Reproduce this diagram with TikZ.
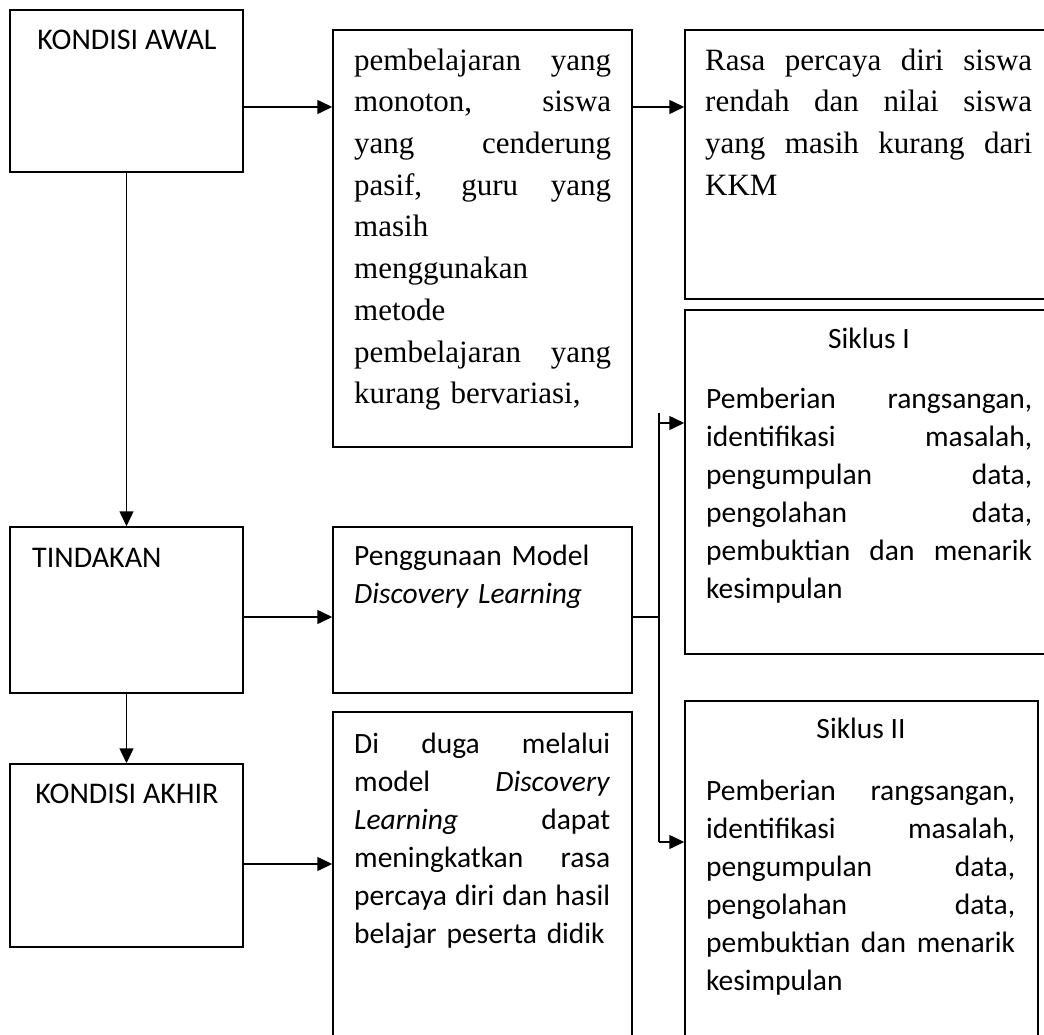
\documentclass[tikz,border=0pt]{standalone}
\usepackage{fontspec}
\setmainfont{Carlito}
\newfontfamily\tnr{Liberation Serif}
\usetikzlibrary{arrows.meta}
\newcommand\J[2]{\leavevmode\hbox to #1{\spaceskip=\fontdimen2\font plus 1fil\relax #2}}
\newcommand\fst{\rule{0pt}{30pt}}
\begin{document}
\begin{tikzpicture}[x=1pt,y=-1pt,
 box/.style={draw, line width=1.5pt, inner sep=0pt},
 arr/.style={line width=1.5pt, -{Triangle[length=15pt,width=14pt]}},
 ln/.style={line width=1.5pt},
 cal/.style={font=\fontsize{29.5}{38}\selectfont, inner sep=0pt},
 lab/.style={font=\fontsize{30}{38}\selectfont, inner sep=0pt},
 tim/.style={font=\tnr\fontsize{31}{41.7}\selectfont, inner sep=0pt},
 blk/.style={anchor=north west, align=left}]
\fill[white] (0,0) rectangle (1044,1035);
\useasboundingbox (0,0) rectangle (1044,1035);
\clip (0,0) rectangle (1044,1035);
% boxes
\node[box, minimum width=233pt, minimum height=162pt] (awal) at (126.5,91) {};
\node[box, minimum width=299pt, minimum height=417pt] (masalah) at (482.5,238.5) {};
\node[box, minimum width=368pt, minimum height=269pt] (rasa) at (869,164.5) {};
\node[box, minimum width=368pt, minimum height=344pt] (s1) at (869,482) {};
\node[box, minimum width=233pt, minimum height=166pt] (tind) at (126.5,610) {};
\node[box, minimum width=299pt, minimum height=166pt] (model) at (482.5,610) {};
\node[box, minimum width=233pt, minimum height=183pt] (akhir) at (126.5,855.5) {};
\node[box, minimum width=299pt, minimum height=340pt] (duga) at (482.5,882) {};
\node[box, minimum width=353pt, minimum height=350pt] (s2) at (861.5,876) {};
% texts
\node[lab, anchor=base] (tawal) at (127,50) {KONDISI AWAL};
\node[lab, anchor=base west] (ttind) at (32,567) {TINDAKAN};
\node[lab, anchor=base] (takhir) at (127,803) {KONDISI AKHIR};
\node[tim, blk, text width=257pt] (tmasalah) at (354,40) {\fst\J{257pt}{pembelajaran yang}\\ \J{257pt}{monoton, siswa}\\ \J{257pt}{yang cenderung}\\ \J{257pt}{pasif, guru yang}\\ masih\\ menggunakan\\ metode\\ \J{257pt}{pembelajaran yang}\\ kurang bervariasi,};
\node[tim, blk, text width=327pt] (trasa) at (705,40) {\fst\J{327pt}{Rasa percaya diri siswa}\\ \J{327pt}{rendah dan nilai siswa}\\ \J{327pt}{yang masih kurang dari}\\ KKM};
\node[cal, anchor=base] (ts1) at (869,348) {Siklus I};
\node[cal, blk, text width=326pt] (ts1b) at (706,378) {\fst\J{326pt}{Pemberian rangsangan,}\\ \J{326pt}{identifikasi masalah,}\\ \J{326pt}{pengumpulan data,}\\ \J{326pt}{pengolahan data,}\\ \J{326pt}{pembuktian dan menarik}\\ kesimpulan};
\node[cal, anchor=base] (ts2) at (861,738) {Siklus II};
\node[cal, blk, text width=309pt] (ts2b) at (706,770) {\fst\J{309pt}{Pemberian rangsangan,}\\ \J{309pt}{identifikasi masalah,}\\ \J{309pt}{pengumpulan data,}\\ \J{309pt}{pengolahan data,}\\ \J{309pt}{pembuktian dan menarik}\\ kesimpulan};
\node[cal, blk, text width=278pt] (tmodel) at (354,535) {\fst Penggunaan Model\\ \textit{Discovery Learning}};
\node[cal, blk, text width=256pt] (tduga) at (354,723) {\fst\J{256pt}{Di duga melalui}\\ \J{256pt}{model \textit{Discovery}}\\ \J{256pt}{\textit{Learning} dapat}\\ \J{256pt}{meningkatkan rasa}\\ \J{256pt}{percaya diri dan hasil}\\ belajar peserta didik};
% connectors
\coordinate (ya) at (0,107);
\coordinate (yb) at (0,617);
\coordinate (yc) at (0,864);
\coordinate (j) at (659,617);
\coordinate (jt) at (659,413);
\coordinate (j1) at (659,423);
\coordinate (jb) at (659,842);
\draw[arr] (awal.east |- ya) -- (masalah.west |- ya);
\draw[arr] (masalah.east |- ya) -- (rasa.west |- ya);
\draw[arr] (awal.south) -- (tind.north);
\draw[arr] (tind.east |- yb) -- (model.west |- yb);
\draw[arr] (tind.south) -- (akhir.north);
\draw[arr] (akhir.east |- yc) -- (duga.west |- yc);
\draw[ln] (model.east |- yb) -- (j);
\draw[ln] (jt) -- (jb);
\draw[arr] (j1) -- (s1.west |- j1);
\draw[arr] (jb) -- (s2.west |- jb);
\end{tikzpicture}
\end{document}
